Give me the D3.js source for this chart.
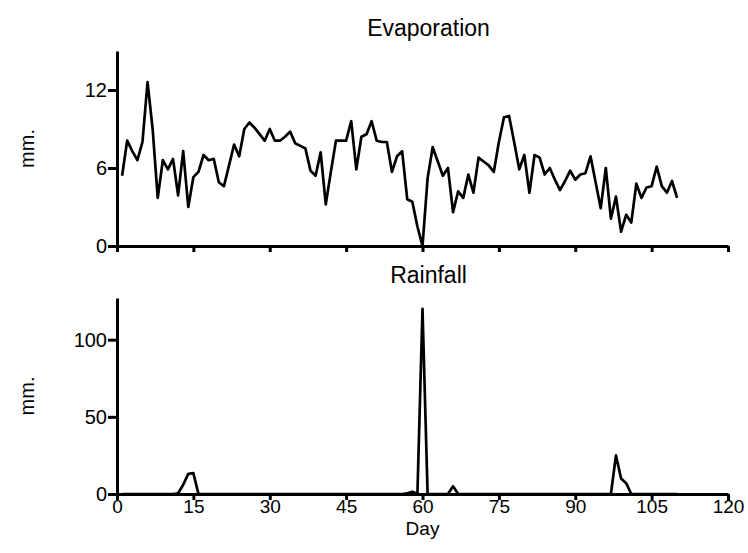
<!DOCTYPE html>
<html>
<head>
<meta charset="utf-8">
<script src="https://cdn.jsdelivr.net/npm/d3@7/dist/d3.min.js"></script>
<style>
  body { margin: 0; background: #fff; }
  svg { display: block; font-family: "Liberation Sans", Arial, Helvetica, sans-serif; }
  .axis path, .axis line { stroke: #000; stroke-width: 3; }
  .axis text { font-size: 20px; fill: #000; }
  .xlab text { font-size: 19px; }
  .series { fill: none; stroke: #000; stroke-width: 2.7; stroke-linejoin: round; }
</style>
</head>
<body>
<svg id="chart" width="748" height="553"></svg>
<script>
// days 1..110
const days = d3.range(1, 111)

// evaporation, mm per day
const evaporation = [
  5.4, 8.1, 7.3, 6.6, 8.0, 12.6, 9.0, 3.7, 6.6, 5.9,
  6.7, 3.9, 7.3, 3.0, 5.3, 5.7, 7.0, 6.6, 6.7, 4.9,
  4.6, 6.2, 7.8, 6.9, 9.0, 9.5, 9.1, 8.6, 8.1, 9.0,
  8.1, 8.1, 8.4, 8.8, 7.9, 7.7, 7.5, 5.8, 5.4, 7.2,
  3.2, 5.7, 8.1, 8.1, 8.1, 9.6, 5.9, 8.4, 8.6, 9.6,
  8.1, 8.0, 8.0, 5.7, 6.9, 7.3, 3.6, 3.4, 1.5, 0.0,
  5.2, 7.6, 6.5, 5.4, 6.0, 2.6, 4.2, 3.7, 5.5, 4.1,
  6.8, 6.5, 6.2, 5.7, 8.0, 9.9, 10.0, 8.0, 5.9, 7.0,
  4.1, 7.0, 6.8, 5.5, 6.0, 5.1, 4.3, 5.0, 5.8, 5.1,
  5.5, 5.6, 6.9, 4.9, 2.9, 6.0, 2.1, 3.8, 1.1, 2.4,
  1.8, 4.8, 3.7, 4.5, 4.6, 6.1, 4.6, 4.1, 5.0, 3.7
]

// rainfall, mm per day: only the rain days, everything else is 0
const rainDays = [12, 13, 14, 15, 57, 58, 60, 66, 98, 99, 100]
const rainAmounts = [0.5, 6, 13, 13.5, 0.5, 1.5, 120, 5, 25, 10, 7]
const rainfall = days.map(d => {
  let i = rainDays.indexOf(d)
  return i < 0 ? 0 : rainAmounts[i]
})

const xTicks = [0, 15, 30, 45, 60, 75, 90, 105, 120]
const evapTicks = [0, 6, 12]
const rainTicks = [0, 50, 100]

const svg = d3.select('#chart')

const x = d3.scaleLinear().domain([0, 120]).range([117, 728])
const yEvap = d3.scaleLinear().domain([0, 15]).range([246, 51])
const yRain = d3.scaleLinear().domain([0, 127]).range([494, 298])

function panel(y, values, ticks, title, showX) {
  let g = svg.append('g')

  g.append('path')
    .datum(values)
    .attr('class', 'series')
    .attr('d', d3.line()
      .x((v, i) => x(days[i]))
      .y(v => y(v)))

  g.append('g')
    .attr('class', 'axis xlab')
    .attr('transform', `translate(0,${y(0)})`)
    .call(d3.axisBottom(x).tickValues(xTicks).tickSize(6).tickSizeOuter(0).tickPadding(0)
      .tickFormat(showX ? d3.format('d') : ''))

  g.append('g')
    .attr('class', 'axis')
    .attr('transform', `translate(${x(0)},0)`)
    .call(d3.axisLeft(y).tickValues(ticks).tickSize(9).tickSizeOuter(0).tickPadding(1))

  g.append('text')
    .attr('x', (x(0) + x(120)) / 2 + 6)
    .attr('y', y.range()[1] - 15)
    .attr('text-anchor', 'middle')
    .style('font-size', '23px')
    .text(title)

  let mid = (y.range()[0] + y.range()[1]) / 2
  g.append('text')
    .attr('transform', `translate(34,${mid}) rotate(-90)`)
    .attr('text-anchor', 'middle')
    .style('font-size', '20px')
    .text('mm.')
}

panel(yEvap, evaporation, evapTicks, 'Evaporation', false)
panel(yRain, rainfall, rainTicks, 'Rainfall', true)

svg.append('text')
  .attr('x', x(60))
  .attr('y', 535)
  .attr('text-anchor', 'middle')
  .style('font-size', '19px')
  .text('Day')
</script>
</body>
</html>
